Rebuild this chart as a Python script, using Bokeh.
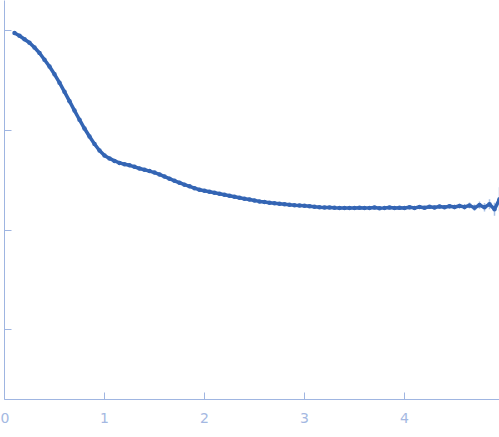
import numpy as np
from bokeh.plotting import figure
from bokeh.models import Range1d, FixedTicker, ColumnDataSource, CustomJSTickFormatter
from bokeh.embed import file_html
from bokeh.resources import INLINE

# scattering vector q (x) and log10 intensity
q = [0.10, 0.15, 0.20, 0.25, 0.30, 0.35, 0.40, 0.45, 0.50, 0.55,
     0.60, 0.65, 0.70, 0.75, 0.80, 0.85, 0.90, 0.95, 1.00, 1.05,
     1.10, 1.15, 1.20, 1.25, 1.30, 1.35, 1.40, 1.45, 1.50, 1.55,
     1.60, 1.65, 1.70, 1.75, 1.80, 1.85, 1.90, 1.95, 2.00, 2.05,
     2.10, 2.15, 2.20, 2.25, 2.30, 2.35, 2.40, 2.45, 2.50, 2.55,
     2.60, 2.65, 2.70, 2.75, 2.80, 2.85, 2.90, 2.95, 3.00, 3.05,
     3.10, 3.15, 3.20, 3.25, 3.30, 3.35, 3.40, 3.45, 3.50, 3.55,
     3.60, 3.65, 3.70, 3.75, 3.80, 3.85, 3.90, 3.95, 4.00, 4.05,
     4.10, 4.15, 4.20, 4.25, 4.30, 4.35, 4.40, 4.45, 4.50, 4.55,
     4.60, 4.65, 4.70, 4.75, 4.80, 4.85, 4.90, 4.95]
log_intensity = [-0.022, -0.050, -0.085, -0.120, -0.168, -0.222, -0.290, -0.358, -0.436, -0.520,
                 -0.612, -0.706, -0.800, -0.892, -0.980, -1.060, -1.135, -1.200, -1.250, -1.280,
                 -1.305, -1.325, -1.338, -1.349, -1.364, -1.381, -1.394, -1.407, -1.422, -1.440,
                 -1.462, -1.483, -1.505, -1.524, -1.543, -1.560, -1.578, -1.594, -1.605, -1.615,
                 -1.625, -1.634, -1.645, -1.654, -1.665, -1.675, -1.684, -1.692, -1.702, -1.711,
                 -1.718, -1.724, -1.730, -1.735, -1.740, -1.745, -1.749, -1.752, -1.755, -1.759,
                 -1.765, -1.769, -1.771, -1.773, -1.775, -1.776, -1.777, -1.776, -1.778, -1.774,
                 -1.778, -1.776, -1.773, -1.779, -1.776, -1.772, -1.778, -1.774, -1.777, -1.770,
                 -1.776, -1.768, -1.774, -1.765, -1.772, -1.762, -1.770, -1.760, -1.768, -1.757,
                 -1.766, -1.752, -1.775, -1.748, -1.770, -1.740, -1.790, -1.690]
log_error = [0.002, 0.002, 0.002, 0.002, 0.002, 0.002, 0.002, 0.002, 0.002, 0.002,
             0.002, 0.002, 0.002, 0.002, 0.002, 0.002, 0.002, 0.002, 0.002, 0.002,
             0.002, 0.002, 0.002, 0.002, 0.002, 0.002, 0.002, 0.002, 0.002, 0.002,
             0.002, 0.002, 0.002, 0.002, 0.002, 0.002, 0.002, 0.002, 0.003, 0.003,
             0.003, 0.003, 0.003, 0.003, 0.004, 0.004, 0.004, 0.004, 0.004, 0.005,
             0.005, 0.005, 0.005, 0.005, 0.006, 0.006, 0.006, 0.006, 0.007, 0.007,
             0.007, 0.007, 0.008, 0.008, 0.008, 0.008, 0.009, 0.009, 0.009, 0.010,
             0.010, 0.010, 0.011, 0.011, 0.012, 0.012, 0.013, 0.013, 0.014, 0.015,
             0.015, 0.016, 0.017, 0.018, 0.019, 0.020, 0.021, 0.022, 0.024, 0.026,
             0.028, 0.030, 0.033, 0.037, 0.042, 0.050, 0.065, 0.120]

x_ticks = [0, 1, 2, 3, 4]
y_ticks = [1, 0.1, 0.01, 0.001]

intensity = np.power(10.0, np.array(log_intensity))
err = np.array(log_error)
src = ColumnDataSource(dict(
    q=q, I=intensity,
    lo=intensity * np.power(10.0, -err),
    hi=intensity * np.power(10.0, err),
))

AXIS = "#9fb5e1"
BLUE = "#3465b4"

p = figure(
    width=499, height=437,
    y_axis_type="log",
    x_range=Range1d(0, 4.95),
    y_range=Range1d(10 ** -3.698, 10 ** 0.304),
    output_backend="svg", toolbar_location=None,
    min_border_left=4, min_border_right=0, min_border_top=0, min_border_bottom=38,
)
p.outline_line_color = None
p.xgrid.visible = False
p.ygrid.visible = False

p.segment(x0="q", y0="lo", x1="q", y1="hi", source=src, line_color="#a9c1e6", line_width=1.5)
p.line(x="q", y="I", source=src, line_color=BLUE, line_width=3.5)
p.scatter(x="q", y="I", source=src, size=4.5, fill_color=BLUE, line_color=None)

for ax in (p.xaxis[0], p.yaxis[0]):
    ax.axis_line_color = AXIS
    ax.major_tick_line_color = AXIS
    ax.minor_tick_line_color = None
    ax.major_tick_in = 7
    ax.major_tick_out = 0

p.xaxis.ticker = FixedTicker(ticks=x_ticks)
p.xaxis.major_label_text_color = "#a4b8e2"
p.xaxis.major_label_text_font = "DejaVu Sans"
p.xaxis.major_label_text_font_size = "14px"
p.xaxis.major_label_standoff = 13

p.yaxis.ticker = FixedTicker(ticks=y_ticks)
p.yaxis.formatter = CustomJSTickFormatter(code="return '';")
p.yaxis.major_label_text_font_size = "1px"
p.yaxis.major_label_text_alpha = 0
p.yaxis.major_label_standoff = 0

open("out.html", "w").write(file_html(p, INLINE))
